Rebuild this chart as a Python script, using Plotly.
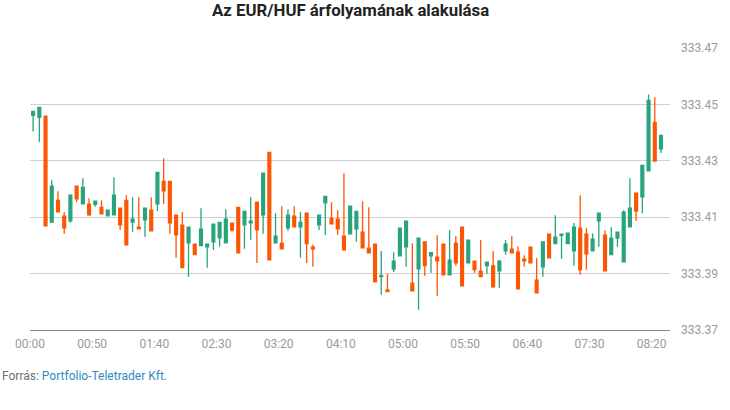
import plotly.graph_objects as go

# Candle index (5-minute bars starting at 00:00)
open_ = [333.4461, 333.4454, 333.4458, 333.4083, 333.4160, 333.4104, 333.4087, 333.4210, 333.4147, 333.4146,
         333.4146, 333.4135, 333.4105, 333.4108, 333.4132, 333.4160, 333.4083, 333.4065, 333.4091, 333.4125,
         333.4147, 333.4227, 333.4227, 333.4107, 333.4072, 333.4009, 333.4004, 333.3999, 333.3995, 333.4013,
         333.4027, 333.4009, 333.4079, 333.4135, 333.4073, 333.4080, 333.4153, 333.4108, 333.4330, 333.4009,
         333.4008, 333.4062, 333.4104, 333.4066, 333.4114, 333.3994, 333.4073, 333.4151, 333.4096, 333.4093,
         333.4033, 333.4041, 333.4059, 333.4047, 333.3990, 333.4004, 333.3889, 333.3842, 333.3916, 333.3963,
         333.3995, 333.3866, 333.3917, 333.4012, 333.3963, 333.3958, 333.4004, 333.3896, 333.4008, 333.4065,
         333.3938, 333.3944, 333.3909, 333.3928, 333.3927, 333.3910, 333.3981, 333.3987, 333.3976, 333.3951,
         333.3994, 333.3877, 333.3924, 333.4040, 333.4006, 333.4036, 333.4006, 333.3981, 333.4061, 333.4040,
         333.3981, 333.4087, 333.4036, 333.3967, 333.4026, 333.3942, 333.4066, 333.4185, 333.4172, 333.4264,
         333.4436, 333.4342]
high = [333.4475, 333.4489, 333.4458, 333.4231, 333.4192, 333.4118, 333.4178, 333.4210, 333.4238, 333.4167,
        333.4157, 333.4160, 333.4125, 333.4242, 333.4132, 333.4178, 333.4171, 333.4171, 333.4132, 333.4171,
        333.4259, 333.4309, 333.4227, 333.4107, 333.4118, 333.4065, 333.4004, 333.4132, 333.4004, 333.4075,
        333.4082, 333.4128, 333.4079, 333.4135, 333.4121, 333.4171, 333.4153, 333.4256, 333.4330, 333.4114,
        333.4139, 333.4128, 333.4139, 333.4118, 333.4114, 333.4002, 333.4107, 333.4174, 333.4153, 333.4125,
        333.4256, 333.4139, 333.4121, 333.4157, 333.4135, 333.4004, 333.3980, 333.3899, 333.3976, 333.4061,
        333.4086, 333.4008, 333.4026, 333.4012, 333.3977, 333.4036, 333.4004, 333.4054, 333.4033, 333.4065,
        333.4019, 333.3944, 333.4019, 333.3941, 333.3980, 333.3948, 333.4019, 333.4033, 333.3997, 333.3965,
        333.3994, 333.3955, 333.4012, 333.4040, 333.4107, 333.4040, 333.4043, 333.4079, 333.4178, 333.4061,
        333.4043, 333.4114, 333.4054, 333.4065, 333.4047, 333.4125, 333.4238, 333.4185, 333.4284, 333.4535,
        333.4525, 333.4390]
low = [333.4404, 333.4367, 333.4069, 333.4083, 333.4119, 333.4041, 333.4080, 333.4154, 333.4147, 333.4105,
       333.4137, 333.4112, 333.4105, 333.4108, 333.4055, 333.4002, 333.4048, 333.4059, 333.4030, 333.4052,
       333.4122, 333.4147, 333.4041, 333.3956, 333.3921, 333.3889, 333.3967, 333.3999, 333.3921, 333.3984,
       333.3995, 333.4009, 333.4048, 333.3974, 333.3988, 333.4020, 333.3938, 333.4041, 333.3949, 333.4009,
       333.3988, 333.4052, 333.4066, 333.3956, 333.3938, 333.3924, 333.4055, 333.4037, 333.4076, 333.4037,
       333.3984, 333.4041, 333.4013, 333.3991, 333.3974, 333.3871, 333.3825, 333.3836, 333.3906, 333.3963,
       333.3924, 333.3839, 333.3772, 333.3892, 333.3903, 333.3821, 333.3896, 333.3896, 333.3928, 333.3857,
       333.3938, 333.3903, 333.3889, 333.3899, 333.3850, 333.3850, 333.3967, 333.3974, 333.3846, 333.3924,
       333.3938, 333.3832, 333.3889, 333.3956, 333.4006, 333.3953, 333.4006, 333.3928, 333.3896, 333.3914,
       333.3981, 333.3995, 333.3910, 333.3967, 333.3995, 333.3942, 333.4066, 333.4087, 333.4114, 333.4264,
       333.4299, 333.4328]
close = [333.4475, 333.4489, 333.4069, 333.4210, 333.4119, 333.4062, 333.4178, 333.4165, 333.4206, 333.4108,
         333.4157, 333.4112, 333.4125, 333.4178, 333.4073, 333.4002, 333.4093, 333.4059, 333.4132, 333.4052,
         333.4259, 333.4193, 333.4080, 333.4037, 333.3921, 333.4065, 333.3967, 333.4058, 333.4004, 333.4075,
         333.4082, 333.4093, 333.4055, 333.3974, 333.4121, 333.4086, 333.4055, 333.4256, 333.3949, 333.4033,
         333.3988, 333.4107, 333.4066, 333.4082, 333.4006, 333.3988, 333.4107, 333.4174, 333.4076, 333.4059,
         333.3984, 333.4139, 333.4121, 333.3991, 333.3974, 333.3871, 333.3893, 333.3836, 333.3944, 333.4061,
         333.4086, 333.3839, 333.4026, 333.3928, 333.3974, 333.3945, 333.3896, 333.3948, 333.3938, 333.3857,
         333.4019, 333.3914, 333.3889, 333.3941, 333.3853, 333.3944, 333.4004, 333.3974, 333.3846, 333.3945,
         333.3938, 333.3832, 333.4012, 333.3956, 333.4029, 333.4040, 333.4043, 333.4065, 333.3914, 333.3970,
         333.4022, 333.4114, 333.3910, 333.4026, 333.4047, 333.4118, 333.4132, 333.4122, 333.4284, 333.4514,
         333.4299, 333.4390]

tick_labels = ["00:00", "00:50", "01:40", "02:30", "03:20", "04:10",
               "05:00", "05:50", "06:40", "07:30", "08:20"]
y_ticks = [333.37, 333.39, 333.41, 333.43, 333.45, 333.47]

GREEN = "#27a47e"
ORANGE = "#fc5604"

x = list(range(len(open_)))

fig = go.Figure(go.Candlestick(
    x=x, open=open_, high=high, low=low, close=close,
    increasing=dict(line=dict(color=GREEN, width=1.3), fillcolor=GREEN),
    decreasing=dict(line=dict(color=ORANGE, width=1.3), fillcolor=ORANGE),
    whiskerwidth=0,
    showlegend=False,
    hoverinfo="skip",
))

fig.update_layout(
    width=730, height=410,
    margin=dict(l=30, r=60, t=48, b=80),
    paper_bgcolor="white", plot_bgcolor="white",
    font=dict(family="Roboto", size=12, color="#999999"),
    boxgap=0.35,
    xaxis=dict(
        range=[-0.5, 102.45],
        tickmode="array",
        tickvals=[i * 10 - 0.5 for i in range(len(tick_labels))],
        ticktext=tick_labels,
        showgrid=False, zeroline=False,
        showline=True, linecolor="#888888", linewidth=1,
        ticks="", rangeslider=dict(visible=False),
        ticklabelstandoff=3,
        tickfont=dict(family="Roboto", size=12, color="#9a9a9a"),
        fixedrange=True,
    ),
    yaxis=dict(
        range=[333.37, 333.47],
        side="right",
        tickmode="array",
        tickvals=y_ticks,
        ticktext=[f"{v:.2f}" for v in y_ticks],
        showgrid=True, gridcolor="#d0d0d0", gridwidth=1,
        zeroline=False, showline=False, ticks="",
        ticklabelstandoff=10,
        tickfont=dict(family="Roboto", size=12, color="#9a9a9a"),
        fixedrange=True,
    ),
    annotations=[
        dict(text="<b>Az EUR/HUF árfolyamának alakulása</b>",
             xref="paper", yref="paper", x=0.5, y=1, yshift=38,
             xanchor="center", yanchor="middle", showarrow=False,
             font=dict(family="Roboto", size=16.8, color="#222222")),
        dict(text="Forrás: <span style='color:#2f8bc4'>Portfolio-Teletrader Kft.</span>",
             xref="paper", yref="paper", x=0, xshift=-30, y=0, yshift=-46,
             xanchor="left", yanchor="middle", showarrow=False,
             font=dict(family="Roboto", size=12, color="#6f6f6f")),
    ],
)

fig.write_html("out.html", config={"displayModeBar": False},
               post_script="document.body.style.margin='0';")
